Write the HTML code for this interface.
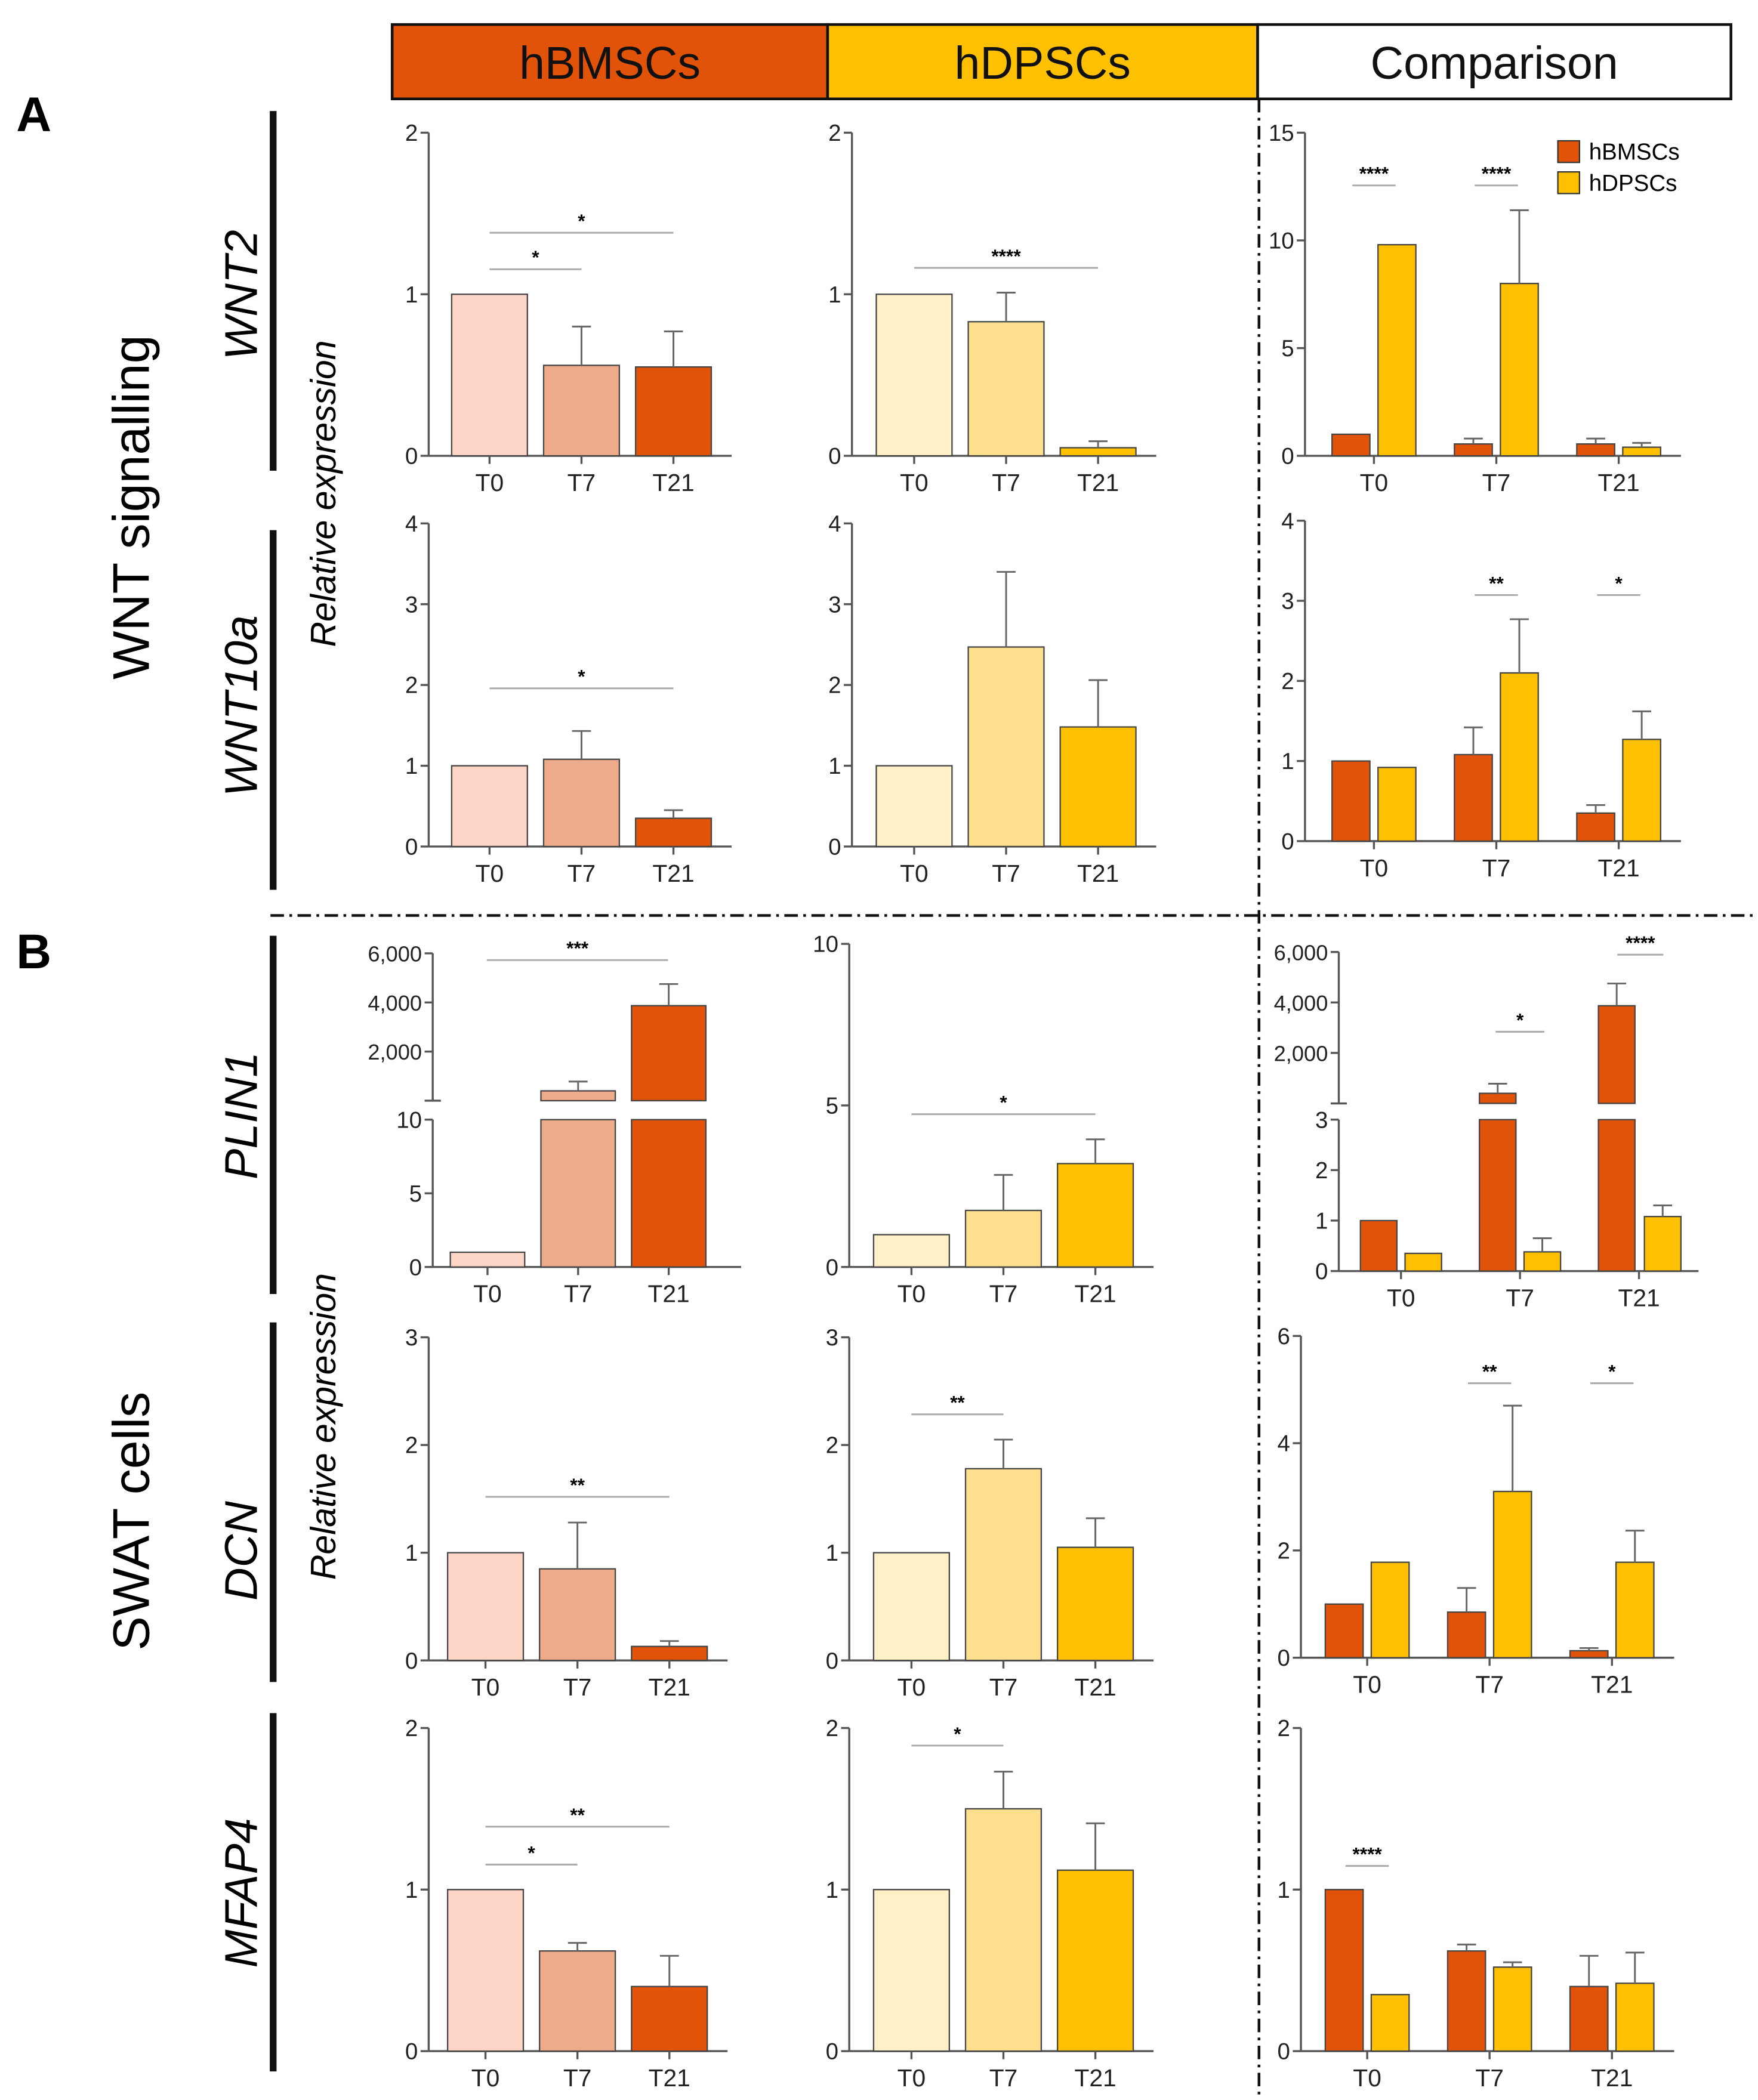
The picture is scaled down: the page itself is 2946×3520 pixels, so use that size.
<!DOCTYPE html>
<html><head><meta charset="utf-8"><style>
html,body{margin:0;padding:0;background:#fff;}
svg{display:block;font-family:"Liberation Sans",Arial,sans-serif;}
</style></head><body>
<svg id="fig" width="2946" height="3520" viewBox="0 0 1300 1553" xmlns="http://www.w3.org/2000/svg">
<g id="static">
  <rect x="290" y="18" width="322" height="55" fill="#e2530a" stroke="#111" stroke-width="2"/>
  <rect x="612" y="18" width="318" height="55" fill="#fec000" stroke="#111" stroke-width="2"/>
  <rect x="930" y="18" width="350" height="55" fill="#fff" stroke="#111" stroke-width="2"/>
  <text x="451" y="58" font-size="34" text-anchor="middle" fill="#111">hBMSCs</text>
  <text x="771" y="58" font-size="34" text-anchor="middle" fill="#111">hDPSCs</text>
  <text x="1105" y="58" font-size="34" text-anchor="middle" fill="#111">Comparison</text>
  <text x="12" y="97" font-size="36" font-weight="bold">A</text>
  <text x="12" y="716" font-size="36" font-weight="bold">B</text>
  <line x1="931" y1="73" x2="931" y2="1553" stroke="#111" stroke-width="2" stroke-dasharray="10,4,2,4"/>
  <line x1="200" y1="677" x2="1300" y2="677" stroke="#111" stroke-width="2" stroke-dasharray="10,4,2,4"/>
  <line x1="202" y1="82" x2="202" y2="348" stroke="#111" stroke-width="5"/>
  <line x1="202" y1="392" x2="202" y2="658" stroke="#111" stroke-width="5"/>
  <line x1="202" y1="692" x2="202" y2="957" stroke="#111" stroke-width="5"/>
  <line x1="202" y1="978" x2="202" y2="1244" stroke="#111" stroke-width="5"/>
  <line x1="202" y1="1267" x2="202" y2="1532" stroke="#111" stroke-width="5"/>
  <text transform="translate(190,218) rotate(-90)" font-size="34" font-style="italic" text-anchor="middle">WNT2</text>
  <text transform="translate(190,522) rotate(-90)" font-size="34" font-style="italic" text-anchor="middle">WNT10a</text>
  <text transform="translate(190,825) rotate(-90)" font-size="34" font-style="italic" text-anchor="middle">PLIN1</text>
  <text transform="translate(190,1147) rotate(-90)" font-size="34" font-style="italic" text-anchor="middle">DCN</text>
  <text transform="translate(190,1400) rotate(-90)" font-size="34" font-style="italic" text-anchor="middle">MFAP4</text>
  <text transform="translate(110,375) rotate(-90)" font-size="38" text-anchor="middle">WNT signalling</text>
  <text transform="translate(110,1125) rotate(-90)" font-size="38" text-anchor="middle">SWAT cells</text>
  <text transform="translate(248,365) rotate(-90)" font-size="26" font-style="italic" text-anchor="middle">Relative expression</text>
  <text transform="translate(248,1055) rotate(-90)" font-size="26" font-style="italic" text-anchor="middle">Relative expression</text>
  <rect x="1152" y="104" width="16" height="16" fill="#e2530a" stroke="#333" stroke-width="1"/>
  <text x="1175" y="118" font-size="17">hBMSCs</text>
  <rect x="1152" y="127" width="16" height="16" fill="#fec000" stroke="#333" stroke-width="1"/>
  <text x="1175" y="141" font-size="17">hDPSCs</text>
</g>
<g id="charts"></g>
</svg>
<script>
// ---- data ----
const categories = ["T0","T7","T21"];
// single-cell-type panels: values and error tops
const wnt2_hb = [1, 0.56, 0.55];       const wnt2_hb_err = [null, 0.8, 0.77];
const wnt2_hd = [1, 0.83, 0.05];       const wnt2_hd_err = [null, 1.01, 0.09];
const wnt10a_hb = [1, 1.08, 0.35];     const wnt10a_hb_err = [null, 1.43, 0.45];
const wnt10a_hd = [1, 2.47, 1.48];     const wnt10a_hd_err = [null, 3.4, 2.06];
const plin1_hb = [1, 400, 3870];       const plin1_hb_err = [null, 780, 4750];
const plin1_hd = [1, 1.75, 3.2];       const plin1_hd_err = [null, 2.85, 3.95];
const dcn_hb = [1, 0.85, 0.13];        const dcn_hb_err = [null, 1.28, 0.18];
const dcn_hd = [1, 1.78, 1.05];        const dcn_hd_err = [null, 2.05, 1.32];
const mfap4_hb = [1, 0.62, 0.4];       const mfap4_hb_err = [null, 0.67, 0.59];
const mfap4_hd = [1, 1.5, 1.12];       const mfap4_hd_err = [null, 1.73, 1.41];
// comparison panels
const cmp_wnt2_hb = [1, 0.55, 0.55];   const cmp_wnt2_hb_err = [null, 0.8, 0.8];
const cmp_wnt2_hd = [9.8, 8, 0.4];     const cmp_wnt2_hd_err = [null, 11.4, 0.6];
const cmp_wnt10a_hb = [1, 1.08, 0.35]; const cmp_wnt10a_hb_err = [null, 1.42, 0.45];
const cmp_wnt10a_hd = [0.92, 2.1, 1.27]; const cmp_wnt10a_hd_err = [null, 2.77, 1.62];
const cmp_plin1_hb = [1, 400, 3870];   const cmp_plin1_hb_err = [null, 780, 4750];
const cmp_plin1_hd = [0.35, 0.38, 1.08]; const cmp_plin1_hd_err = [null, 0.65, 1.3];
const cmp_dcn_hb = [1, 0.85, 0.13];    const cmp_dcn_hb_err = [null, 1.3, 0.18];
const cmp_dcn_hd = [1.78, 3.1, 1.78];  const cmp_dcn_hd_err = [null, 4.7, 2.37];
const cmp_mfap4_hb = [1, 0.62, 0.4];   const cmp_mfap4_hb_err = [null, 0.66, 0.59];
const cmp_mfap4_hd = [0.35, 0.52, 0.42]; const cmp_mfap4_hd_err = [null, 0.55, 0.61];
// tick labels
const ticks_0_2 = [0,1,2];
const ticks_0_3 = [0,1,2,3];
const ticks_0_4 = [0,1,2,3,4];
const ticks_0_6 = [0,2,4,6];
const ticks_0_10 = [0,5,10];
const ticks_0_15 = [0,5,10,15];
const ticks_lower_0_3 = [0,1,2,3];
const ticks_upper = [2000,4000,6000];

const HB = ["#fdd5c6","#eeab8b","#e2530a"];
const HD = ["#fff0c8","#fedf8e","#fec000"];
const NS = "http://www.w3.org/2000/svg";
const root = document.getElementById("charts");
function mk(tag, attrs, parent){ const e=document.createElementNS(NS,tag); for(const k in attrs) e.setAttribute(k,attrs[k]); (parent||root).appendChild(e); return e; }
function fmt(v){ return v>=1000 ? v.toLocaleString("en-US") : String(v); }

function axes(g, ax, x1, yTop, yBot, ymax, ticks, scale){
  const l=mk("line",{x1:ax,y1:yTop,x2:ax,y2:yBot,stroke:"#555","stroke-width":1.5},g);
  
  
  const b=mk("line",{x1:ax,y1:yBot,x2:x1,y2:yBot,stroke:"#555","stroke-width":1.5},g);
  
  
  ticks.forEach(t=>{
    const y=scale(t);
    mk("line",{x1:ax-6,y1:y,x2:ax,y2:y,stroke:"#555","stroke-width":1.5},g);
    const tx=mk("text",{x:ax-8,y:y+6,"font-size":17,"text-anchor":"end",fill:"#222"},g);
    tx.textContent=fmt(t);
    
    
  });
}
function xlabels(g, centers, yBot){
  centers.forEach((c,i)=>{
    mk("line",{x1:c,y1:yBot,x2:c,y2:yBot+6,stroke:"#555","stroke-width":1.5},g);
    const t=mk("text",{x:c,y:yBot+26,"font-size":18,"text-anchor":"middle",fill:"#222"},g);
    t.textContent=categories[i];
    
    
  });
}
function bar(g, x, w, yv, yBot, color, errY, name){
  const r=mk("rect",{x:x,y:yv,width:w,height:yBot-yv,fill:color,stroke:"#444","stroke-width":1},g);
  
  
  if(errY!=null){
    mk("line",{x1:x+w/2,y1:yv,x2:x+w/2,y2:errY,stroke:"#666","stroke-width":1.3},g);
    mk("line",{x1:x+w/2-7,y1:errY,x2:x+w/2+7,y2:errY,stroke:"#666","stroke-width":1.3},g);
  }
}
function sig(g, xa, xb, y, label){
  const l=mk("line",{x1:xa,y1:y,x2:xb,y2:y,stroke:"#aaa","stroke-width":1.3},g);
  
  
  const t=mk("text",{x:(xa+xb)/2,y:y-4,"font-size":14,"font-weight":"bold","text-anchor":"middle"},g);
  t.textContent=label;
  
  
}

// simple single panel
function single(name, ax, bx0, yTop, yBot, ymax, ticks, vals, errs, colors, sigs){
  const g=mk("g",{});
  
  
  const s=v=>yBot-(v/ymax)*(yBot-yTop);
  const bw=56, gap=12;
  axes(g, ax, bx0+3*bw+2*gap+15, yTop, yBot, ymax, ticks, s);
  const cs=[];
  vals.forEach((v,i)=>{
    const x=bx0+i*(bw+gap);
    bar(g,x,bw,s(v),yBot,colors[i],errs[i]==null?null:s(errs[i]),'bar-'+categories[i].toLowerCase());
    cs.push(x+bw/2);
  });
  xlabels(g,cs,yBot);
  (sigs||[]).forEach(q=>sig(g,cs[q[0]],cs[q[1]],q[2],q[3]));
}
// grouped comparison panel
function compare(name, ax, bx0, yTop, yBot, ymax, ticks, hb, hbe, hd, hde, sigs){
  const g=mk("g",{});
  
  
  const s=v=>yBot-(v/ymax)*(yBot-yTop);
  const bw=28, inner=6, step=90.5;
  axes(g, ax, bx0+2*step+2*bw+inner+15, yTop, yBot, ymax, ticks, s);
  const cs=[];
  categories.forEach((c,i)=>{
    const x=bx0+i*step;
    bar(g,x,bw,s(hb[i]),yBot,HB[2],hbe[i]==null?null:s(hbe[i]),'bar-hbmscs-'+c.toLowerCase());
    bar(g,x+bw+inner,bw,s(hd[i]),yBot,HD[2],hde[i]==null?null:s(hde[i]),'bar-hdpscs-'+c.toLowerCase());
    cs.push(x+bw+inner/2);
  });
  xlabels(g,cs,yBot);
  (sigs||[]).forEach(q=>sig(g,cs[q[0]]-16,cs[q[0]]+16,q[1],q[2]));
}
// broken-axis panel (lower 0..lowMax, upper 0..6000)
function broken(name, ax, xEnd, xs, ws, colors, vals, errs, lowTop, lowBot, lowMax, lowTicks, upTop, upBot, sigs){
  const g=mk("g",{});
  
  
  const sl=v=>lowBot-(v/lowMax)*(lowBot-lowTop);
  const su=v=>upBot-(v/6000)*(upBot-upTop);
  axes(g, ax, xEnd, lowTop, lowBot, lowMax, lowTicks, sl);
  const l=mk("line",{x1:ax,y1:upTop,x2:ax,y2:upBot,stroke:"#555","stroke-width":1.5},g);
  
  
  mk("line",{x1:ax-6,y1:upBot,x2:ax+6,y2:upBot,stroke:"#555","stroke-width":1.5},g);
  ticks_upper.forEach(t=>{
    const y=su(t);
    mk("line",{x1:ax-6,y1:y,x2:ax,y2:y,stroke:"#555","stroke-width":1.5},g);
    const tx=mk("text",{x:ax-8,y:y+6,"font-size":16,"text-anchor":"end",fill:"#222"},g);
    tx.textContent=fmt(t);
    
    
  });
  vals.forEach((v,i)=>{
    const x=xs[i], w=ws[i];
    if(v<=lowMax){
      bar(g,x,w,sl(v),lowBot,colors[i],errs[i]==null?null:sl(errs[i]),'bar-'+i);
    } else {
      const r=mk("rect",{x:x,y:lowTop,width:w,height:lowBot-lowTop,fill:colors[i],stroke:"#444","stroke-width":1},g);
      
      
      bar(g,x,w,su(v),upBot,colors[i],errs[i]==null?null:su(errs[i]),'bar-upper-'+i);
    }
  });
  return {g, sl, su};
}

// Row 1 WNT2
single("chart-wnt2-hbmscs",317,334,98,337,2,ticks_0_2,wnt2_hb,wnt2_hb_err,HB,[[0,1,199,"*"],[0,2,172,"*"]]);
single("chart-wnt2-hdpscs",630,648,98,337,2,ticks_0_2,wnt2_hd,wnt2_hd_err,HD,[[0,2,198,"****"]]);
compare("chart-wnt2-comparison",965,985,98,337,15,ticks_0_15,cmp_wnt2_hb,cmp_wnt2_hb_err,cmp_wnt2_hd,cmp_wnt2_hd_err,[[0,137,"****"],[1,137,"****"]]);
// Row 2 WNT10a
single("chart-wnt10a-hbmscs",317,334,387,626,4,ticks_0_4,wnt10a_hb,wnt10a_hb_err,HB,[[0,2,509,"*"]]);
single("chart-wnt10a-hdpscs",630,648,387,626,4,ticks_0_4,wnt10a_hd,wnt10a_hd_err,HD,[]);
compare("chart-wnt10a-comparison",965,985,385,622,4,ticks_0_4,cmp_wnt10a_hb,cmp_wnt10a_hb_err,cmp_wnt10a_hd,cmp_wnt10a_hd_err,[[1,440,"**"],[2,440,"*"]]);
// Row 3 PLIN1
(function(){
  const r=broken("chart-plin1-hbmscs",320,548,[333,400,467],[55,55,55],HB,plin1_hb,plin1_hb_err,828,937,10,ticks_0_10,705,814,[]);
  xlabels(r.g,[360.5,427.5,494.5],937);
  sig(r.g,360,494,710,"***");
})();
single("chart-plin1-hdpscs",628,646,698,937,10,ticks_0_10,plin1_hd,plin1_hd_err,HD,[[0,2,824,"*"]]);
(function(){
  const xs=[1006,1039,1094,1127,1182,1216];
  const cols=[HB[2],HD[2],HB[2],HD[2],HB[2],HD[2]];
  const vals=[], errs=[];
  for(let i=0;i<3;i++){ vals.push(cmp_plin1_hb[i],cmp_plin1_hd[i]); errs.push(cmp_plin1_hb_err[i],cmp_plin1_hd_err[i]); }
  const r=broken("chart-plin1-comparison",990,1256,xs,[27,27,27,27,27,27],cols,vals,errs,828,940,3,ticks_lower_0_3,704,816,[]);
  xlabels(r.g,[1036,1124,1212],940);
  sig(r.g,1106,1142,763,"*");
  sig(r.g,1196,1230,706,"****");
})();
// Row 4 DCN
single("chart-dcn-hbmscs",317,331,989,1228,3,ticks_0_3,dcn_hb,dcn_hb_err,HB,[[0,2,1107,"**"]]);
single("chart-dcn-hdpscs",628,646,989,1228,3,ticks_0_3,dcn_hd,dcn_hd_err,HD,[[0,1,1046,"**"]]);
compare("chart-dcn-comparison",962,980,988,1226,6,ticks_0_6,cmp_dcn_hb,cmp_dcn_hb_err,cmp_dcn_hd,cmp_dcn_hd_err,[[1,1023,"**"],[2,1023,"*"]]);
// Row 5 MFAP4
single("chart-mfap4-hbmscs",317,331,1278,1517,2,ticks_0_2,mfap4_hb,mfap4_hb_err,HB,[[0,1,1379,"*"],[0,2,1351,"**"]]);
single("chart-mfap4-hdpscs",628,646,1278,1517,2,ticks_0_2,mfap4_hd,mfap4_hd_err,HD,[[0,1,1291,"*"]]);
compare("chart-mfap4-comparison",962,980,1278,1517,2,ticks_0_2,cmp_mfap4_hb,cmp_mfap4_hb_err,cmp_mfap4_hd,cmp_mfap4_hd_err,[[0,1380,"****"]]);
</script>
</body></html>
